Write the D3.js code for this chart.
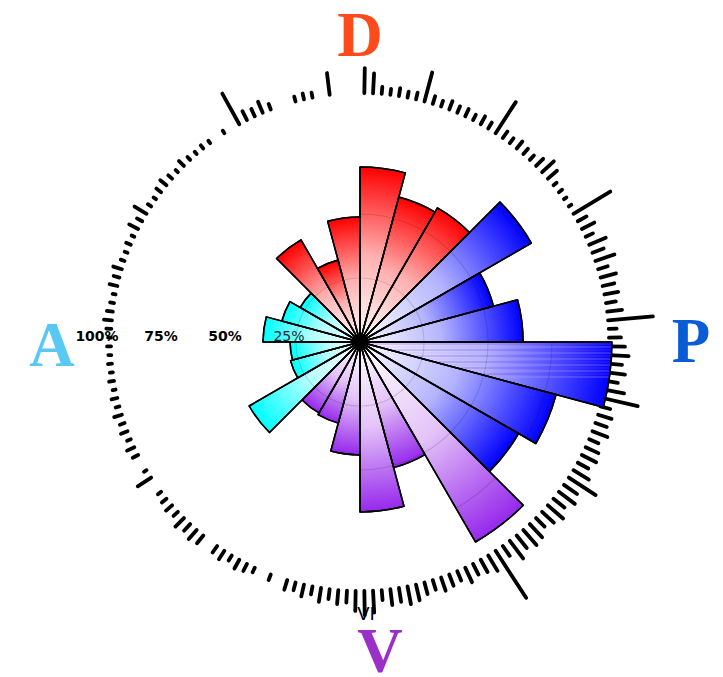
<!DOCTYPE html>
<html>
<head>
<meta charset="utf-8">
<script src="https://cdn.jsdelivr.net/npm/d3@7"></script>
<style>
  html, body { margin: 0; padding: 0; background: #ffffff; }
  svg { display: block; }
</style>
</head>
<body>
<script>
// Rose sectors: 24 sectors of 15°, clockwise from north, value = % of full scale
const sectorValues = [68.4, 58.6, 60.5, 77.3, 54.0, 63.7, 98.4, 79.3, 71.5, 90.2, 50.8, 66.4,
                      44.1, 32.8, 32.0, 50.0, 28.1, 27.3, 37.9, 31.6, 27.0, 46.1, 33.2, 48.8];
const sectorGroups = ["D", "D", "D", "P", "P", "P", "P", "P", "P", "V", "V", "V",
                      "V", "V", "V", "A", "A", "A", "A", "A", "A", "D", "D", "D"];

// Groups: name, outer fill, mid-gradient fill, label colour
const groupNames = ["D", "P", "V", "A"];
const groupColors = ["#ff0000", "#0000ff", "#9628ec", "#00ffff"];
const groupMidColors = ["#ffb0b0", "#b4b4ff", "#e4c4f8", "#b4ffff"];
const groupLabelColors = ["#ff4a1c", "#0a5cd6", "#9b30c8", "#5ac8f5"];

// Radial axis ticks (%)
const gridTicks = [25, 50, 75, 100];

// Outer ring: mark length for each 2° bin, clockwise from north
const ringValues = [
  25, 20, 7, 6, 8, 6, 7, 30, 8, 6,
  9, 7, 8, 6, 9, 7, 37, 8, 6, 9,
  7, 6, 10, 16, 12, 4, 4, 3, 3, 43,
  10, 14, 8, 18, 12, 20, 10, 16, 12, 14,
  10, 15, 45, 8, 12, 16, 20, 14, 18, 12,
  20, 36, 10, 14, 12, 16, 10, 14, 16, 12,
  18, 32, 16, 20, 14, 20, 16, 12, 18, 20,
  16, 22, 12, 56, 18, 14, 12, 16, 10, 12,
  14, 10, 12, 16, 18, 14, 16, 10, 22, 24,
  20, 12, 14, 10, 14, 8, 12, 8, 10, 0,
  6, 0, 5, 8, 10, 6, 10, 8, 0, 10,
  12, 9, 12, 6, 8, 6, 4, 0, 16, 3,
  0, 6, 8, 4, 7, 5, 8, 4, 6, 3,
  5, 3, 4, 3, 4, 3, 5, 8, 6, 4,
  3, 8, 6, 9, 4, 3, 5, 3, 10, 6,
  14, 4, 3, 6, 8, 5, 3, 7, 4, 3,
  4, 3, 0, 3, 0, 35, 10, 8, 12, 6,
  0, 0, 5, 6, 5, 0, 22, 0, 0, 0
];

const W = 723, H = 677;
const cx = 360, cy = 342;
const fullRadius = 256;
const ringBase = 249;

const svg = d3.select("body").append("svg")
  .attr("width", W).attr("height", H)
  .attr("viewBox", `0 0 ${W} ${H}`);

const defs = svg.append("defs");
const g = svg.append("g").attr("transform", `translate(${cx},${cy})`);

const r = d3.scaleLinear().domain([0, 100]).range([0, fullRadius]);
const sectorAngle = d3.scaleLinear().domain([0, sectorValues.length]).range([0, 2 * Math.PI]);
const ringAngle = d3.scaleLinear().domain([0, ringValues.length]).range([0, 2 * Math.PI]);
const colorOf = d3.scaleOrdinal().domain(groupNames).range(groupColors);
const midOf = d3.scaleOrdinal().domain(groupNames).range(groupMidColors);

const sectors = sectorValues.map((v, i) => ({
  i, value: v, group: sectorGroups[i],
  startAngle: sectorAngle(i), endAngle: sectorAngle(i + 1),
  innerRadius: 0, outerRadius: r(v)
}));

// One radial gradient per sector: white at the hub, full colour at its tip
sectors.forEach(d => {
  const grad = defs.append("radialGradient")
    .attr("id", "sg" + d.i)
    .attr("gradientUnits", "userSpaceOnUse")
    .attr("cx", 0).attr("cy", 0).attr("fx", 0).attr("fy", 0)
    .attr("r", d.outerRadius);
  grad.append("stop").attr("offset", 0).attr("stop-color", "#ffffff");
  grad.append("stop").attr("offset", 0.5).attr("stop-color", midOf(d.group));
  grad.append("stop").attr("offset", 1).attr("stop-color", colorOf(d.group));
});

const arc = d3.arc();

// clip for grid circles so they only show through the sectors
const clip = defs.append("clipPath").attr("id", "sectorClip");
clip.selectAll("path").data(sectors).join("path").attr("d", arc);

// clip for the streaked band of the longest sector (just below due east)
const longest = sectors.reduce((a, b) => (b.value > a.value ? b : a));
defs.append("clipPath").attr("id", "longClip")
  .append("path").attr("d", arc(longest));

// Outer ring marks
const ringMarks = ringValues.map((len, i) => ({ len, a: ringAngle(i + 0.5) }))
  .filter(d => d.len > 0);
g.append("g").attr("class", "ring")
  .selectAll("line").data(ringMarks).join("line")
  .attr("x1", d => d3.pointRadial(d.a, ringBase)[0])
  .attr("y1", d => d3.pointRadial(d.a, ringBase)[1])
  .attr("x2", d => d3.pointRadial(d.a, ringBase + d.len)[0])
  .attr("y2", d => d3.pointRadial(d.a, ringBase + d.len)[1])
  .attr("stroke", "#000")
  .attr("stroke-width", 3.8)
  .attr("stroke-linecap", "round");

// Sectors
g.append("g").attr("class", "sectors")
  .selectAll("path").data(sectors).join("path")
  .attr("d", arc)
  .attr("fill", d => `url(#sg${d.i})`)
  .attr("stroke", "#000")
  .attr("stroke-width", 1.5)
  .attr("stroke-linejoin", "round");

// Horizontal streaks across the upper band of the longest sector
const streakBand = 38;
g.append("g").attr("clip-path", "url(#longClip)")
  .selectAll("line").data(d3.range(2, streakBand, 3)).join("line")
  .attr("x1", 0).attr("x2", r(100))
  .attr("y1", d => d).attr("y2", d => d)
  .attr("stroke", (d, i) => (i % 2 ? "#b9a8ff" : "#7a30f0"))
  .attr("stroke-opacity", 0.45)
  .attr("stroke-width", 1.2);

// Faint grid circles inside the sectors
g.append("g").attr("clip-path", "url(#sectorClip)")
  .selectAll("circle").data(gridTicks.slice(0, 3)).join("circle")
  .attr("r", d => r(d))
  .attr("fill", "none")
  .attr("stroke", "rgba(0,0,0,0.13)")
  .attr("stroke-width", 1.2);

// Redraw sector edges on top so the hub stays dark
g.append("g").attr("class", "edges")
  .selectAll("path").data(sectors).join("path")
  .attr("d", arc)
  .attr("fill", "none")
  .attr("stroke", "#000")
  .attr("stroke-width", 1.5)
  .attr("stroke-linejoin", "round");
g.append("circle").attr("r", 5).attr("fill", "#000").attr("opacity", 0.85);

// Radial axis labels along the west direction
g.append("g").attr("class", "tick-labels")
  .selectAll("text").data(gridTicks).join("text")
  .attr("x", d => -(r(d) + 7))
  .attr("y", -1)
  .attr("text-anchor", "middle")
  .attr("font-family", "DejaVu Sans, Verdana, sans-serif")
  .attr("font-size", 14)
  .attr("font-weight", d => d === 25 ? "normal" : "bold")
  .attr("fill", d => d === 25 ? "#1c2a2a" : "#000")
  .text(d => d + "%");

// Small label on the ring near south
g.append("text")
  .attr("x", 6).attr("y", 278)
  .attr("text-anchor", "middle")
  .attr("font-family", "DejaVu Sans, sans-serif")
  .attr("font-size", 18)
  .attr("fill", "#000")
  .text("VI");

// Group labels around the rose
const labelPos = { D: [0, -286], P: [331, 20], V: [20, 330], A: [-308, 24] };
svg.append("g").attr("class", "group-labels")
  .selectAll("text").data(groupNames).join("text")
  .attr("x", d => cx + labelPos[d][0])
  .attr("y", d => cy + labelPos[d][1])
  .attr("text-anchor", "middle")
  .attr("font-family", "Liberation Serif, Times New Roman, serif")
  .attr("font-weight", "bold")
  .attr("font-size", 63)
  .attr("fill", (d, i) => groupLabelColors[i])
  .text(d => d);
</script>
</body>
</html>
